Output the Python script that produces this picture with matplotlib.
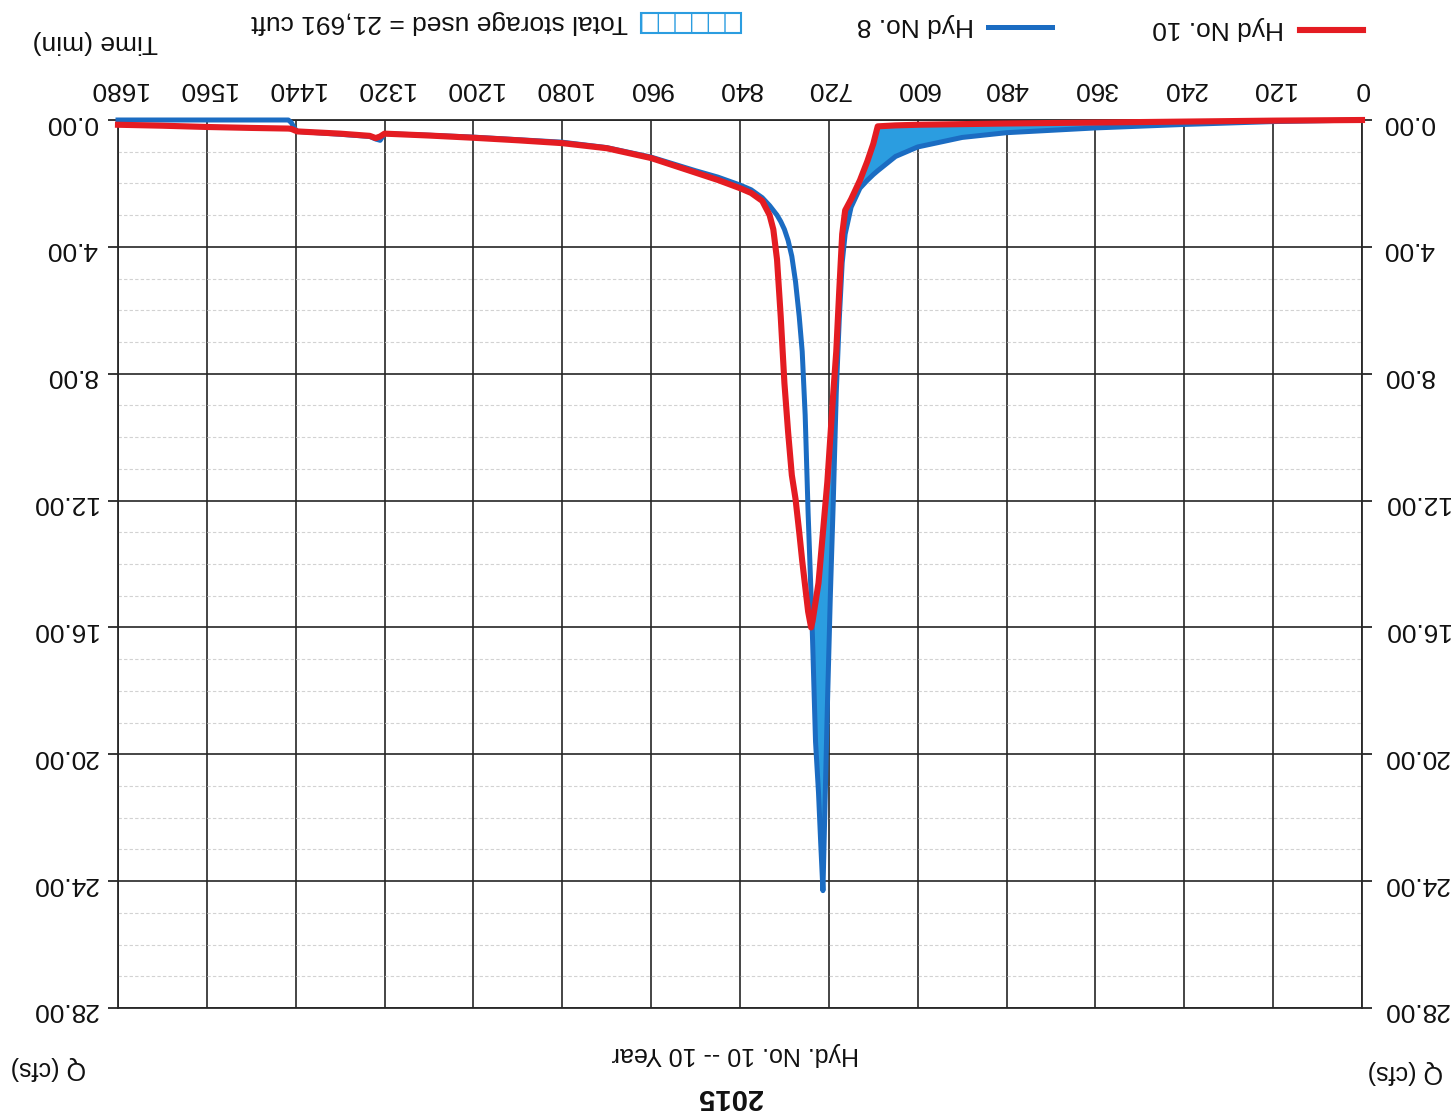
import numpy as np
import matplotlib
matplotlib.use("Agg")
import matplotlib.pyplot as plt
from matplotlib.lines import Line2D
from matplotlib.patches import Rectangle

# Routed hydrographs (time in minutes, discharge in cfs)
time_min = [0, 120, 240, 360, 480, 540, 600, 630, 654, 660, 668, 678, 690, 698,
            702, 706, 710, 714, 718, 722, 728, 731, 734, 738, 742, 744, 748, 752,
            756, 760, 765, 770, 775, 780, 785, 790, 795, 800, 810, 825, 840, 870,
            900, 960, 1020, 1080, 1140, 1200, 1260, 1320, 1326, 1332, 1340, 1380,
            1438, 1442, 1446, 1450, 1500, 1560, 1620, 1680]

# Hyd No. 8 - inflow hydrograph
hyd8_cfs = [0.00, 0.05, 0.14, 0.25, 0.40, 0.55, 0.85, 1.15, 1.60, 1.72, 1.90, 2.15,
            2.75, 3.60, 4.50, 6.30, 8.60, 12.00, 15.00, 18.50, 24.30, 22.80, 21.20,
            19.60, 16.40, 15.00, 12.40, 9.30, 7.30, 6.20, 5.10, 4.30, 3.80, 3.45,
            3.20, 3.00, 2.85, 2.70, 2.45, 2.20, 2.05, 1.80, 1.60, 1.17, 0.87, 0.70,
            0.62, 0.54, 0.48, 0.43, 0.64, 0.60, 0.52, 0.45, 0.36, 0.25, 0.08, 0.00,
            0.00, 0.00, 0.00, 0.00]

# Hyd No. 10 - outflow hydrograph
hyd10_cfs = [0.00, 0.02, 0.05, 0.08, 0.11, 0.13, 0.15, 0.17, 0.20, 0.75, 1.30, 1.90,
             2.50, 2.85, 3.60, 5.40, 7.30, 8.60, 10.00, 11.40, 13.00, 13.80, 14.60,
             15.20, 15.80, 16.00, 15.50, 14.70, 13.90, 13.00, 11.95, 11.20, 9.85,
             8.30, 6.20, 4.40, 3.45, 3.00, 2.55, 2.30, 2.15, 1.89, 1.66, 1.20, 0.89,
             0.73, 0.64, 0.56, 0.49, 0.43, 0.52, 0.57, 0.50, 0.43, 0.36, 0.32, 0.28,
             0.27, 0.25, 0.22, 0.18, 0.15]

x_ticks = [0, 120, 240, 360, 480, 600, 720, 840, 960, 1080, 1200, 1320, 1440, 1560, 1680]
y_ticks = [0, 4, 8, 12, 16, 20, 24, 28]
y_tick_labels = ["0.00", "4.00", "8.00", "12.00", "16.00", "20.00", "24.00", "28.00"]

title_text = "2015"
subtitle_text = "Hyd. No. 10 -- 10 Year"
y_label = "Q (cfs)"
x_label = "Time (min)"
legend_in = "Hyd No. 8"
legend_out = "Hyd No. 10"
storage_label = "Total storage used = 21,691 cuft"

RED = "#e41c22"
BLUE = "#1b6cc2"
FILL = "#2b9de0"
GRID = "#262626"

plt.rcParams["font.family"] = ["Liberation Sans", "DejaVu Sans"]

W, H = 1453, 1114
fig = plt.figure(figsize=(W / 100, H / 100), dpi=100)
fig.patch.set_facecolor("white")


def fx(px):
    return px / W


def fy(py):
    return 1 - py / H


# The sheet is printed upside down: both axes run reversed and all text is turned 180 degrees
ax = fig.add_axes([fx(118), fy(1008), fx(1362) - fx(118), fy(120) - fy(1008)])
ax.set_xlim(1680, 0)
ax.set_ylim(28, 0)

ax.set_xticks(x_ticks)
ax.set_xticklabels([str(v) for v in x_ticks])
ax.set_yticks(y_ticks)
ax.set_yticklabels(y_tick_labels)
ax.set_yticks(np.arange(0, 29, 1), minor=True)

ax.xaxis.tick_top()
ax.tick_params(axis="x", which="both", length=0, pad=14, labelsize=19,
               labelrotation=180, labelcolor="#111111")
ax.tick_params(axis="y", which="major", left=True, right=True, labelleft=True,
               labelright=True, length=7, width=1.3, color=GRID, pad=8,
               labelsize=19, labelrotation=180, labelcolor="#111111")
ax.tick_params(axis="y", which="minor", length=0)

ax.grid(which="major", color=GRID, lw=1.2, zorder=1)
ax.grid(which="minor", axis="y", color="#d2d2d2", lw=0.8, ls=(0, (3, 2)), zorder=0)
ax.set_axisbelow(True)
for sp in ax.spines.values():
    sp.set_color(GRID)
    sp.set_linewidth(1.3)

t = np.array(time_min, dtype=float)
q_in = np.array(hyd8_cfs)
q_out = np.array(hyd10_cfs)

# Storage: area where inflow exceeds outflow
ax.fill_between(t, q_out, q_in, where=q_in >= q_out, interpolate=True,
                color=FILL, lw=0, zorder=2)
ax.plot(t, q_in, color=BLUE, lw=3.6, solid_joinstyle="round", zorder=3, clip_on=False)
ax.plot(t, q_out, color=RED, lw=4.4, solid_joinstyle="round", zorder=4, clip_on=False)

# Titles and axis captions
fig.text(fx(730), fy(1097), title_text, rotation=180, ha="center", va="center",
         fontsize=21, fontweight="bold", color="#111111")
fig.text(fx(735), fy(1054), subtitle_text, rotation=180, ha="center", va="center",
         fontsize=18, color="#111111")
fig.text(fx(48), fy(1068), y_label, rotation=180, ha="center", va="center",
         fontsize=18, color="#111111")
fig.text(fx(1405), fy(1072), y_label, rotation=180, ha="center", va="center",
         fontsize=18, color="#111111")
fig.text(fx(95), fy(42), x_label, rotation=180, ha="center", va="center",
         fontsize=19, color="#111111")

# Legend row
fig.add_artist(Line2D([fx(1300), fx(1363)], [fy(30), fy(30)], color=RED, lw=4.4,
                      transform=fig.transFigure))
fig.text(fx(1218), fy(28), legend_out, rotation=180, ha="center", va="center",
         fontsize=19, color="#111111")
fig.add_artist(Line2D([fx(988), fx(1052)], [fy(27), fy(27)], color=BLUE, lw=3.6,
                      transform=fig.transFigure))
fig.text(fx(915), fy(25), legend_in, rotation=180, ha="center", va="center",
         fontsize=19, color="#111111")
fig.add_artist(Rectangle((fx(641), fy(33)), fx(741) - fx(641), fy(13) - fy(33),
                         transform=fig.transFigure, facecolor="white",
                         edgecolor=FILL, lw=1.5, hatch="|"))
fig.text(fx(440), fy(22), storage_label, rotation=180, ha="center", va="center",
         fontsize=19, color="#111111")

fig.savefig("out.png", dpi=100, facecolor="white")
